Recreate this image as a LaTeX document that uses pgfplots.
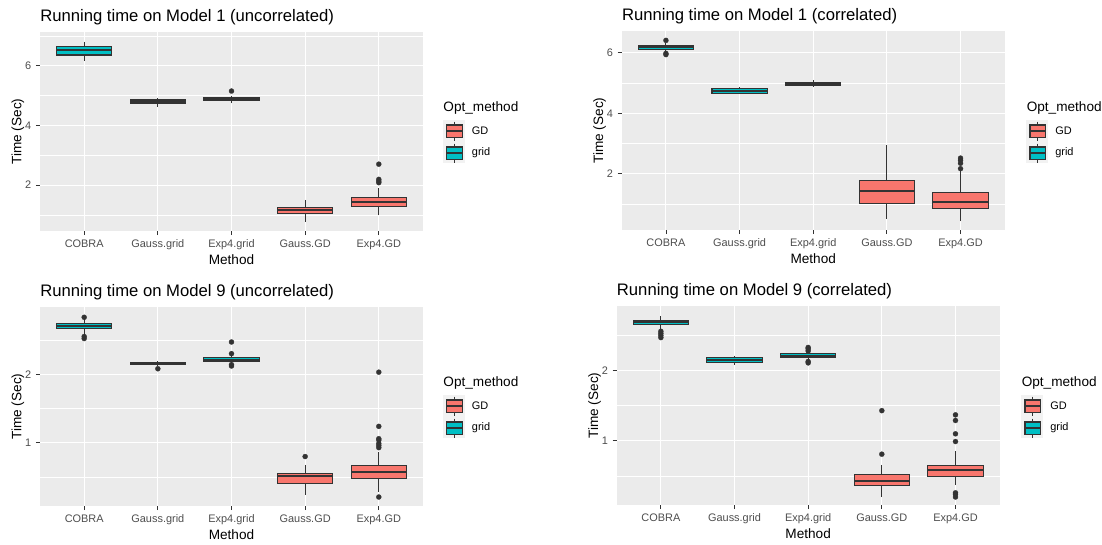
\documentclass[border=0pt]{standalone}
\usepackage{fontspec}
\setmainfont{Liberation Sans}
\usepackage{pgfplots}
\pgfplotsset{compat=1.18}
\usepgfplotslibrary{statistics}

\definecolor{ggpanel}{HTML}{EBEBEB}
\definecolor{ggdark}{HTML}{333333}
\definecolor{ggtick}{HTML}{4D4D4D}
\definecolor{gd}{HTML}{F8766D}
\definecolor{grd}{HTML}{00BFC4}
\definecolor{legbg}{HTML}{F2F2F2}

% one box: position, lower whisker, Q1, median, Q3, upper whisker, colour, outliers
\newcommand{\bx}[8]{%
  \addplot[ggdark, fill=#7, line width=0.8pt, mark=*, mark size=1.9pt,
    mark options={fill=ggdark, draw=ggdark, line width=0.2pt},
    boxplot/draw direction=y,
    boxplot prepared={draw position=#1, lower whisker=#2, lower quartile=#3,
      median=#4, upper quartile=#5, upper whisker=#6},
    boxplot/box extend=0.75, boxplot/whisker extend=0,
    boxplot/every whisker/.style={line width=0.8pt},
    boxplot/every median/.style={line width=1.6pt}] coordinates {#8};}

% legend block, #1 = left x (px), #2 = top of keys (px from top)
\newcommand{\ggleg}[2]{%
  \begin{scope}[x=0.75pt, y=0.75pt, shift={(#1,544-#2)}]
    \node[anchor=west, inner sep=0pt, font=\fontsize{10.2}{12}\selectfont] at (0.5,11.7) {Opt\_method};
    \fill[legbg] (0,0) rectangle (22.3,-43.3);
    \foreach \c/\o in {gd/0, grd/-22}{
      \draw[ggdark, line width=0.6pt] (11.8,\o-1.5) -- (11.8,\o-20.5);
      \draw[ggdark, fill=\c, line width=0.8pt] (4,\o-5) rectangle (19.6,\o-17.3);
      \draw[ggdark, line width=1.4pt] (4,\o-11.1) -- (19.6,\o-11.1);
    }
    \node[anchor=west, inner sep=0pt, font=\fontsize{8.2}{10}\selectfont] at (29,-11) {GD};
    \node[anchor=west, inner sep=0pt, font=\fontsize{8.2}{10}\selectfont] at (29,-33) {grid};
  \end{scope}}

\pgfplotsset{
  gg/.style={
    scale only axis, width=287.25pt, height=149.25pt, anchor=south west,
    axis background/.style={fill=ggpanel},
    axis line style={draw=none},
    xmin=-0.6, xmax=4.6, xtick={0,1,2,3,4},
    xticklabels={COBRA,Gauss.grid,Exp4.grid,Gauss.GD,Exp4.GD},
    grid=both,
    major grid style={white, line width=0.8pt},
    minor grid style={white, line width=0.4pt},
    tick align=outside, tick pos=left,
    major tick length=3pt, minor tick length=0pt,
    major tick style={ggdark, line width=0.6pt},
    ticklabel style={font=\fontsize{8.2}{10}\selectfont, text=ggtick},
    /pgf/number format/assume math mode=true,
    xlabel={Method}, ylabel={Time (Sec)},
    label style={font=\fontsize{10.2}{12}\selectfont},
    xlabel style={at={(axis description cs:0.5,-0.142)}, anchor=center},
    ylabel style={at={(axis description cs:-0.0575,0.5)}, anchor=center},
    every axis title shift=0pt,
    title style={at={(axis description cs:0,1)}, anchor=south west,
      inner sep=0pt, yshift=5.25pt, font=\fontsize{12.5}{15}\selectfont},
    clip=false,
  }
}

\begin{document}
\begin{tikzpicture}

% Model 1, uncorrelated
\begin{axis}[gg, at={(30pt,234.75pt)}, ymin=0.46, ymax=7.13,
  ytick={2,4,6}, minor ytick={1,3,5,7},
  title={Running time on Model 1 (uncorrelated)}]
\bx{0}{6.17}{6.36}{6.53}{6.64}{6.81}{grd}{}
\bx{1}{4.63}{4.72}{4.80}{4.88}{4.92}{grd}{}
\bx{2}{4.74}{4.82}{4.88}{4.93}{4.99}{grd}{(0,5.15)}
\bx{3}{0.77}{1.05}{1.16}{1.26}{1.50}{gd}{}
\bx{4}{0.99}{1.27}{1.44}{1.57}{1.89}{gd}{(0,2.08) (0,2.13) (0,2.19) (0,2.70)}
\end{axis}

% Model 1, correlated
\begin{axis}[gg, at={(466.3pt,235.5pt)}, ymin=0.144, ymax=6.72,
  ytick={2,4,6}, minor ytick={1,3,5},
  title={Running time on Model 1 (correlated)}]
\bx{0}{6.02}{6.11}{6.19}{6.25}{6.33}{grd}{(0,5.94) (0,5.98) (0,6.41)}
\bx{1}{4.63}{4.67}{4.75}{4.81}{4.86}{grd}{}
\bx{2}{4.88}{4.93}{4.98}{5.03}{5.10}{grd}{}
\bx{3}{0.51}{1.01}{1.44}{1.78}{2.94}{gd}{}
\bx{4}{0.43}{0.84}{1.08}{1.38}{2.08}{gd}{(0,2.17) (0,2.35) (0,2.45) (0,2.52)}
\end{axis}

% Model 9, uncorrelated
\begin{axis}[gg, at={(30pt,28.5pt)}, ymin=0.079, ymax=2.98,
  ytick={1,2}, minor ytick={0.5,1.5,2.5},
  title={Running time on Model 9 (uncorrelated)}]
\bx{0}{2.57}{2.66}{2.70}{2.74}{2.80}{grd}{(0,2.52) (0,2.55) (0,2.83)}
\bx{1}{2.12}{2.14}{2.15}{2.17}{2.19}{grd}{(0,2.08)}
\bx{2}{2.16}{2.19}{2.21}{2.24}{2.27}{grd}{(0,2.12) (0,2.14) (0,2.30) (0,2.47)}
\bx{3}{0.24}{0.41}{0.52}{0.55}{0.68}{gd}{(0,0.80)}
\bx{4}{0.29}{0.48}{0.58}{0.67}{0.87}{gd}{(0,0.21) (0,0.93) (0,0.96) (0,0.99) (0,1.04) (0,1.06) (0,1.24) (0,2.03)}
\end{axis}

% Model 9, correlated
\begin{axis}[gg, at={(462.5pt,29.25pt)}, ymin=0.086, ymax=2.92,
  ytick={1,2}, minor ytick={0.5,1.5,2.5},
  title={Running time on Model 9 (correlated)}]
\bx{0}{2.58}{2.66}{2.69}{2.72}{2.78}{grd}{(0,2.47) (0,2.50) (0,2.53) (0,2.56)}
\bx{1}{2.08}{2.12}{2.15}{2.18}{2.21}{grd}{}
\bx{2}{2.15}{2.18}{2.21}{2.24}{2.26}{grd}{(0,2.11) (0,2.13) (0,2.28) (0,2.31) (0,2.33)}
\bx{3}{0.20}{0.37}{0.43}{0.52}{0.65}{gd}{(0,0.81) (0,1.43)}
\bx{4}{0.37}{0.49}{0.59}{0.65}{0.85}{gd}{(0,0.20) (0,0.24) (0,0.26) (0,0.99) (0,1.10) (0,1.29) (0,1.37)}
\end{axis}

\ggleg{442.7}{120}
\ggleg{1026}{120}
\ggleg{442.7}{395}
\ggleg{1021}{395}

\pgfresetboundingbox
\path[use as bounding box] (0,0) rectangle (826.5pt,408pt);
\end{tikzpicture}
\end{document}
